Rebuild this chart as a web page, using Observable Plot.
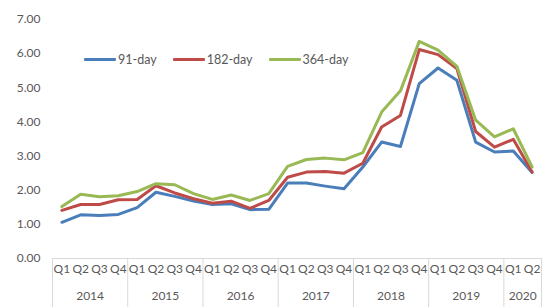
<!DOCTYPE html>
<html>
<head>
<meta charset="utf-8">
<script src="https://cdn.jsdelivr.net/npm/d3@7"></script>
<script src="https://cdn.jsdelivr.net/npm/@observablehq/plot@0.6"></script>
<style>
  html, body { margin: 0; padding: 0; background: #fff; }
  #wrap { position: relative; width: 542px; height: 307px; font-family: Lato, "Open Sans", sans-serif; }
  #legend { position: absolute; left: 84px; top: 52px; display: flex; align-items: center; font-size: 12.5px; color: #595959; }
  #legend .item { display: flex; align-items: center; margin-right: 16px; }
  #legend .sw { width: 32px; height: 3px; margin-right: 2px; border-radius: 1px; }
</style>
</head>
<body>
<div id="wrap"><div id="legend"></div></div>
<script>
const years = ["2014", "2015", "2016", "2017", "2018", "2019", "2020"];
const quarters = ["Q1", "Q2", "Q3", "Q4"];
const seriesNames = ["91-day", "182-day", "364-day"];
const seriesColors = ["#4A7EBB", "#BE4B48", "#98B954"];
const d91  = [1.06, 1.28, 1.26, 1.29, 1.49, 1.94, 1.82, 1.68, 1.58, 1.60, 1.43, 1.44, 2.21, 2.21, 2.12, 2.04, 2.68, 3.41, 3.28, 5.12, 5.58, 5.22, 3.41, 3.12, 3.15, 2.52];
const d182 = [1.41, 1.58, 1.58, 1.72, 1.73, 2.13, 1.92, 1.75, 1.62, 1.68, 1.47, 1.70, 2.38, 2.53, 2.55, 2.50, 2.79, 3.85, 4.19, 6.12, 5.97, 5.56, 3.72, 3.26, 3.49, 2.53];
const d364 = [1.52, 1.88, 1.81, 1.84, 1.96, 2.19, 2.16, 1.90, 1.73, 1.86, 1.70, 1.90, 2.70, 2.90, 2.94, 2.89, 3.10, 4.29, 4.91, 6.36, 6.10, 5.63, 4.05, 3.56, 3.80, 2.68];
const yTicks = [0, 1, 2, 3, 4, 5, 6, 7];

const nPeriods = d91.length;
const periods = [];
years.forEach(y => quarters.forEach(q => { if (periods.length < nPeriods) periods.push({year: y, q}); }));

const allSeries = [d91, d182, d364];
const rows = [];
allSeries.forEach((arr, s) => arr.forEach((v, i) => rows.push({series: seriesNames[s], i: i + 0.5, v})));

const qCenters = periods.map((p, i) => i + 0.5);
const boundaries = [];
periods.forEach((p, i) => { if (p.q === "Q1") boundaries.push(i); });
boundaries.push(nPeriods);
const yearCenters = years.map(y => {
  const idx = periods.map((p, i) => p.year === y ? i : -1).filter(i => i >= 0);
  return (idx[0] + idx[idx.length - 1] + 1) / 2;
});

const gray = "#595959";
const chart = Plot.plot({
  width: 542,
  height: 307,
  marginLeft: 52,
  marginRight: 1,
  marginTop: 19,
  marginBottom: 49,
  style: { fontFamily: "Lato, 'Open Sans', sans-serif", fontSize: "12px", color: gray, background: "#fff" },
  x: { type: "linear", domain: [0, nPeriods] },
  y: { domain: [0, 7] },
  color: { domain: seriesNames, range: seriesColors },
  marks: [
    Plot.axisY(yTicks, { tickSize: 0, tickPadding: 12, tickFormat: d3.format(".2f"), label: null, fill: gray, fontSize: 12 }),
    Plot.axisX(boundaries, { tickSize: 49, tickFormat: () => "", stroke: "#d9d9d9", label: null }),
    Plot.axisX(qCenters, { tickSize: 0, tickPadding: 6, tickFormat: (d, i) => periods[i].q, label: null, fill: gray, fontSize: 12 }),
    Plot.axisX(yearCenters, { tickSize: 0, tickPadding: 33, tickFormat: (d, i) => years[i], label: null, fill: gray, fontSize: 12 }),
    Plot.ruleY([0], { stroke: "#d9d9d9" }),
    Plot.line(rows, { x: "i", y: "v", z: "series", stroke: "series", strokeWidth: 3, strokeLinejoin: "round", strokeLinecap: "round" })
  ]
});
document.getElementById("wrap").prepend(chart);

const legend = document.getElementById("legend");
seriesNames.forEach((n, k) => {
  const it = document.createElement("div");
  it.className = "item";
  const sw = document.createElement("span");
  sw.className = "sw";
  sw.style.background = seriesColors[k];
  const t = document.createElement("span");
  t.textContent = n;
  it.append(sw, t);
  legend.append(it);
});
</script>
</body>
</html>
